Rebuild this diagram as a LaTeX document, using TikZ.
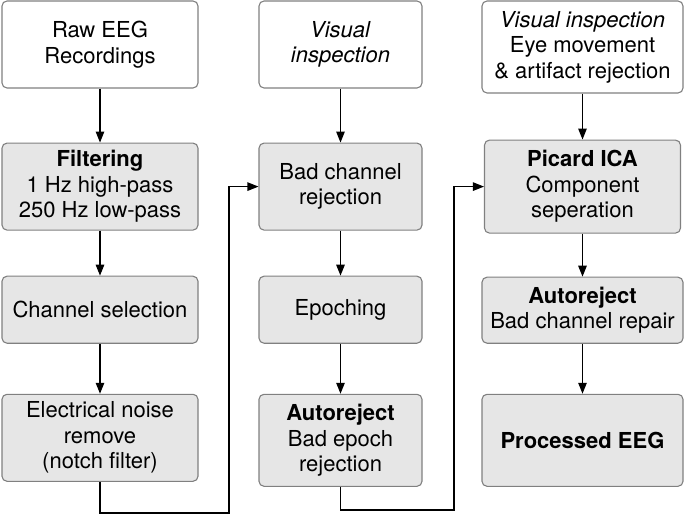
\documentclass[tikz,border=0pt]{standalone}
\usepackage{fontspec}
\setmainfont{TeX Gyre Heros}
\usepackage{xcolor}
\usepackage{tikz}
\usetikzlibrary{arrows.meta, positioning, calc}

\definecolor{boxgray}{HTML}{E6E6E6}
\definecolor{edgegray}{HTML}{808080}

\begin{document}
\begin{tikzpicture}[
    x=1pt, y=1pt,
    font=\fontsize{22}{25.5}\selectfont,
    block/.style={
        rectangle,
        draw=edgegray,
        line width=1.1pt,
        fill=boxgray,
        align=center,
        rounded corners=5pt,
        inner sep=2pt
    },
    source/.style={
        block,
        fill=white
    },
    arrow/.style={
        -{Triangle[length=11pt,width=8.5pt]},
        line width=1.2pt,
        color=black
    }
]
\useasboundingbox (0,0) rectangle (686,515);

% Column 1
\node[source, minimum width=196pt, minimum height=87pt] (raw) at (100,470.5) {Raw EEG\\Recordings};
\node[block, minimum width=196pt, minimum height=87pt, below=54pt of raw] (filt) {\textbf{Filtering}\\1 Hz high-pass\\250 Hz low-pass};
\node[block, minimum width=196pt, minimum height=67pt, below=45pt of filt] (chsel) {Channel selection};
\node[block, minimum width=196pt, minimum height=87pt, below=50pt of chsel] (noise) {Electrical noise\\remove\\(notch filter)};

% Column 2
\node[source, minimum width=163pt, minimum height=87pt] (vis) at (340.5,470.5) {\textit{Visual}\\\textit{inspection}};
\node[block, minimum width=163pt, minimum height=87pt, below=54pt of vis] (badch) {Bad channel\\rejection};
\node[block, minimum width=163pt, minimum height=67pt, below=45pt of badch] (epoch) {Epoching};
\node[block, minimum width=163pt, minimum height=92pt, below=50pt of epoch] (arepoch) {\textbf{Autoreject}\\Bad epoch\\rejection};

% Column 3
\node[source, minimum width=201pt, minimum height=92pt] (eye) at (582.5,468) {\textit{Visual inspection}\\Eye movement\\\& artifact rejection};
\node[block, minimum width=196pt, minimum height=93pt, below=46pt of eye] (ica) {\textbf{Picard ICA}\\Component\\seperation};
\node[block, minimum width=201pt, minimum height=66pt, below=43pt of ica] (repair) {\textbf{Autoreject}\\Bad channel repair};
\node[block, minimum width=201pt, minimum height=92pt, below=50pt of repair] (proc) {\textbf{Processed EEG}};

% Turning points
\coordinate (turnA) at (229,2);
\coordinate (turnB) at (454,5);

% Arrows
\draw[arrow] (raw) -- (filt);
\draw[arrow] (filt) -- (chsel);
\draw[arrow] (chsel) -- (noise);
\draw[arrow] (vis) -- (badch);
\draw[arrow] (badch) -- (epoch);
\draw[arrow] (epoch) -- (arepoch);
\draw[arrow] (eye) -- (ica);
\draw[arrow] (ica) -- (repair);
\draw[arrow] (repair) -- (proc);
\draw[arrow] (noise.south) |- (turnA) |- (badch.west);
\draw[arrow] (arepoch.south) |- (turnB) |- (ica.west);

\end{tikzpicture}
\end{document}
